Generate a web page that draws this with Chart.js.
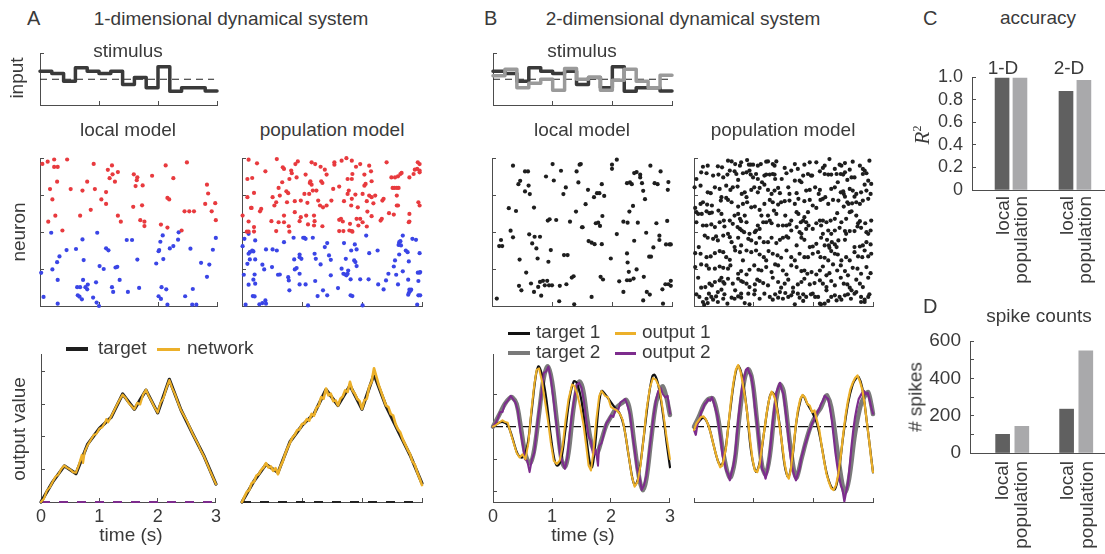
<!DOCTYPE html>
<html>
<head>
<meta charset="utf-8">
<script src="https://cdn.jsdelivr.net/npm/chart.js@4.4.0/dist/chart.umd.min.js"></script>
<style>
  body { margin: 0; background: #fff; }
  #fig { position: relative; width: 1105px; height: 554px; overflow: hidden; font-family: "Liberation Sans", Arial, sans-serif; color: #3a3a3a; }
  #fig canvas { position: absolute; }
  .t { position: absolute; white-space: nowrap; line-height: 1; }
  .lg { position: absolute; height: 3px; }
</style>
</head>
<body>
<div id="fig"></div>
<script>
// ---------- data ----------
const stepTimes = [0, 0.2, 0.4, 0.6, 0.8, 1.0, 1.2, 1.4, 1.6, 1.8, 2.0, 2.2, 2.4, 2.6, 2.8, 3.0];
const stimA = [0.8, 0.57, -0.2, 1.13, 0.8, 0.57, 0.8, -0.53, 0.17, -0.83, 1.23, -1.2, -0.83, -0.83, -1.17];
const stimB1 = [0.8, 0.57, -0.2, 1.13, 0.8, 0.57, 0.8, -0.53, 0.17, -0.83, 1.23, -1.2, -0.83, -0.83, -1.17];
const stimB2 = [0.35, 1.0, -0.83, -0.4, 0.0, -1.1, 1.07, 0.0, 0.2, -1.1, -0.1, 1.0, -0.2, -0.83, 0.4];

// raster spikes: [time (s), neuron]
const rasterA_localExc = [[0.04,96],[0.13,97.5],[0.24,99],[0.24,94],[0.30,94],[0.46,99],[0.91,96],[1.22,95],[1.15,92],[1.32,90.5],[1.23,89],[1.18,86.4],[1.27,84],[0.80,84],[1.59,89],[1.65,87],[1.64,85],[2.13,95],[2.49,97],[1.90,88],[2.26,86.4],[0.29,84],[0.17,79],[0.52,79],[0.72,78],[0.93,79],[1.12,77],[1.04,72],[1.12,69],[0.21,72],[0.86,65],[0.68,61],[0.26,61],[0.14,57],[0.38,51],[1.32,61],[1.37,57],[1.58,67],[1.62,81],[1.74,81.5],[1.73,68],[1.70,58],[1.77,57],[1.77,54],[2.16,73],[2.19,72],[2.05,55],[2.16,53],[2.40,51],[2.45,64],[2.53,64],[2.61,64],[2.83,82],[2.85,76],[2.80,69],[2.97,69.5],[2.91,64],[2.98,58]];
const rasterA_localInh = [[0.19,49.5],[0.02,22.4],[0.21,24.7],[0.29,29.6],[0.33,33.5],[0.45,37.8],[0.61,38.5],[0.72,45],[0.74,31],[0.97,49.5],[1.12,39],[1.16,37.6],[1.01,27],[1.08,25],[1.28,26],[1.31,26.5],[1.35,17.6],[0.73,17.6],[0.63,12.7],[0.68,12.7],[0.77,12.7],[0.81,14.5],[0.80,11.3],[0.64,7.2],[0.67,6.3],[0.71,4.5],[0.90,5.7],[0.95,16],[0.96,2.3],[1.00,0],[0.30,17.6],[0.30,1.6],[0.06,6.1],[1.22,12.7],[1.24,9.5],[1.49,9.5],[1.68,12.2],[1.47,44.6],[1.56,44.6],[1.65,31.4],[1.97,28.7],[2.01,37],[2.02,37.8],[2.04,43.4],[2.08,47.7],[2.09,31.7],[2.06,12.7],[2.14,11.3],[2.01,6.6],[2.05,4.8],[2.16,0.9],[2.20,38.9],[2.26,40.5],[2.34,44.8],[2.35,49.8],[2.55,38.7],[2.46,6.6],[2.59,11.5],[2.58,0.9],[2.65,0.9],[2.73,29.2],[2.83,19.7],[2.87,28],[2.93,38],[2.98,46]];
const rasterA_popExc = [[0.11,98.9],[0.25,96.4],[0.39,91.0],[0.58,99.3],[0.68,93.7],[0.70,92.6],[0.82,91.5],[0.83,89.7],[0.89,95.9],[0.93,97.7],[1.06,88.8],[1.16,97.1],[1.22,95.9],[1.31,94.1],[1.38,92.1],[1.41,88.8],[1.54,97.1],[1.54,95.5],[1.66,98.2],[1.74,99.9],[1.83,98.2],[1.90,94.1],[1.97,95.9],[1.76,85.8],[1.83,85.8],[1.84,89.2],[2.04,88.8],[2.12,94.8],[2.15,91.0],[2.16,84.3],[2.41,97.1],[2.49,86.9],[2.55,86.9],[2.60,87.6],[2.64,89.2],[2.66,89.9],[2.79,86.9],[2.86,89.2],[2.88,92.1],[2.92,92.6],[2.96,91.5],[2.96,90.3],[2.93,97.1],[2.96,95.9],
  [0.09,85.8],[0.17,86.5],[0.09,73.5],[0.20,76.4],[0.15,66.3],[0.30,64.0],[0.32,65.6],[0.51,73.5],[0.54,67.9],[0.57,70.1],[0.61,79.8],[0.63,74.6],[0.67,83.6],[0.79,85.8],[0.74,77.5],[0.77,76.2],[0.75,70.1],[0.88,70.8],[0.91,86.9],[0.98,71.2],[1.04,75.7],[1.09,69.7],[1.12,75.7],[1.13,83.1],[1.14,84.3],[1.16,82.0],[1.18,78.0],[1.24,78.0],[1.30,67.9],[1.27,71.2],[1.32,84.3],[1.34,83.1],[1.35,66.7],[1.41,67.9],[1.49,71.2],[1.52,79.1],[1.62,80.7],[1.70,70.8],[1.76,75.7],[1.78,78.0],[1.83,72.4],[1.82,67.9],[1.89,75.3],[1.93,66.7],[2.01,75.7],[2.04,81.3],[2.06,82.5],[2.08,70.8],[2.12,74.6],[2.16,73.5],[2.19,69.4],[2.22,74.6],[2.34,71.2],[2.36,72.4],[2.51,79.8],[2.54,79.8],[2.58,79.8],[2.61,79.8],[2.58,74.6],[2.58,67.9],[2.94,70.1],[2.96,67.9],
  [0.01,61.1],[0.11,57.1],[0.16,66.3],[0.20,53.3],[0.20,50.3],[0.11,50.2],[0.08,50.2],[0.49,57.3],[0.57,50.6],[0.61,56.6],[0.70,61.1],[0.70,56.6],[0.78,53.9],[0.79,50.2],[0.88,63.4],[0.96,57.3],[0.98,60.0],[1.07,61.1],[1.10,55.1],[1.20,61.1],[1.21,57.3],[1.20,54.4],[1.34,53.9],[1.62,58.2],[1.65,58.9],[1.68,57.1],[1.62,50.6],[1.69,50.6],[1.79,51.0],[1.83,50.6],[1.84,50.2],[1.80,55.5],[1.91,58.9],[1.94,54.4],[1.97,58.9],[2.01,56.6],[2.09,63.8],[2.08,53.7],[2.16,60.7],[2.33,58.9],[2.31,57.7],[2.45,62.7],[2.53,61.8],[2.60,67.9],[2.79,62.2],[2.79,57.1],[2.78,56.6]];
const rasterA_popInh = [[0.04,45.4],[0.11,48.8],[0.22,44.3],[0.01,40.4],[0.17,37.5],[0.13,36.4],[0.11,35.3],[0.19,36.9],[0.22,31.5],[0.13,31.5],[0.09,28.5],[0.03,21.1],[0.11,14.4],[0.21,21.3],[0.19,17.8],[0.22,15.1],[0.18,6.7],[0.21,6.5],[0.06,0.9],[0.29,1.1],[0.34,2.0],[0.39,3.8],[0.40,1.6],[0.34,27.9],[0.37,24.7],[0.40,38.2],[0.50,26.3],[0.51,38.2],[0.58,37.5],[0.60,21.1],[0.63,21.3],[0.70,43.1],[0.77,19.5],[0.78,17.3],[0.79,10.6],[0.86,46.1],[0.87,31.5],[0.88,24.7],[0.91,25.6],[0.96,34.8],[0.96,33.0],[0.99,31.9],[0.96,21.8],[0.96,14.6],[1.06,14.6],[1.02,46.1],[1.04,46.1],[1.06,45.4],[1.10,0.4],[1.18,46.1],[1.21,35.3],[1.23,31.9],[1.22,16.9],[1.26,6.7],[1.31,28.1],[1.35,10.6],[1.38,39.8],[1.42,42.5],[1.42,7.2],[1.45,34.2],[1.48,31.2],[1.48,20.7],[1.60,12.1],[1.66,25.2],[1.70,42.5],[1.73,31.9],[1.69,21.8],[1.72,21.3],[1.74,20.7],[1.76,21.8],[1.77,24.0],[1.81,7.2],[1.84,6.7],[1.82,37.5],[1.88,41.6],[1.91,38.2],[1.87,30.8],[1.89,29.7],[1.91,27.0],[1.81,18.0],[1.97,18.0],[2.01,0.4],[2.07,47.6],[2.11,18.0],[2.12,35.7],[2.27,14.6],[2.26,37.5],[2.36,11.2],[2.40,17.3],[2.44,21.8],[2.53,26.7],[2.55,30.8],[2.57,21.1],[2.61,41.3],[2.62,43.1],[2.64,43.8],[2.65,40.9],[2.62,34.8],[2.60,14.6],[2.68,47.6],[2.68,23.4],[2.73,37.5],[2.76,36.4],[2.78,30.1],[2.77,17.8],[2.79,11.0],[2.78,8.8],[2.82,11.0],[2.77,7.6],[2.80,9.9],[2.84,45.4],[2.90,44.7],[2.92,0.9],[2.94,7.2],[2.97,7.2],[2.96,35.7],[2.93,22.5],[2.96,22.5],[2.97,22.9],[2.94,16.9]];
const rasterB_local = [[0.35,94.8],[0.44,82.3],[0.47,84.6],[0.55,90.9],[0.60,90.9],[0.61,81.4],[0.55,77.4],[0.63,75.6],[0.28,66.1],[0.40,64.2],[0.70,66.5],[0.31,50.9],[0.35,46.4],[0.46,31.4],[0.62,48.4],[0.71,46.8],[0.80,46.8],[0.67,42.3],[0.74,38.9],[0.76,32.1],[0.15,44.6],[0.12,40.5],[0.17,40.5],[0.08,5.0],[0.45,13.6],[0.49,10.6],[0.57,22.6],[0.65,15.2],[0.70,9.5],[0.80,16.3],[0.77,12.9],[0.82,7.0],[0.85,17.0],[0.88,14.0],[0.92,17.0],[0.95,14.0],[1.00,14.0],[0.94,29.9],[0.98,37.8],[0.93,57.7],[0.96,58.6],[1.07,58.1],[1.01,95.9],[1.03,84.8],[0.90,87.5],[1.15,91.4],[1.19,75.6],[1.23,80.1],[1.13,13.6],[1.12,3.2],[1.24,14.7],[1.26,34.4],[1.20,34.4],[1.30,57.0],[1.33,19.2],[1.36,20.1],[1.37,1.1],[1.40,63.8],[1.41,90.9],[1.44,83.5],[1.46,95.5],[1.48,95.9],[1.50,53.2],[1.51,53.2],[1.56,68.8],[1.60,78.5],[1.61,43.9],[1.66,42.8],[1.66,6.1],[1.70,73.5],[1.75,76.2],[1.79,76.2],[1.83,82.3],[1.84,60.8],[1.87,74.4],[1.71,41.8],[1.77,56.3],[1.80,54.1],[1.73,55.9],[1.83,41.8],[1.85,17.9],[1.81,19.7],[2.00,95.5],[2.00,92.7],[2.08,98.9],[1.98,32.1],[2.08,48.6],[2.12,16.7],[2.19,9.5],[2.25,83.0],[2.30,83.5],[2.33,82.3],[2.37,89.8],[2.41,90.5],[2.47,88.7],[2.47,86.9],[2.50,83.0],[2.52,77.8],[2.55,72.2],[2.35,67.6],[2.29,63.8],[2.26,56.3],[2.43,56.3],[2.19,57.0],[2.25,35.5],[2.26,29.4],[2.28,23.1],[2.25,17.4],[2.30,17.4],[2.36,18.5],[2.41,24.7],[2.57,49.5],[2.62,33.3],[2.65,33.3],[2.69,39.6],[2.71,83.0],[2.76,82.3],[2.74,55.9],[2.79,47.5],[2.79,44.6],[2.64,94.8],[2.81,90.9],[2.92,57.5],[2.94,83.7],[2.93,78.5],[2.90,41.6],[2.96,41.6],[2.98,41.6],[2.84,11.3],[2.89,14.7],[2.94,14.7],[2.98,17.0],[2.98,13.6],[2.52,3.8],[2.58,9.5],[2.63,7.7],[2.85,1.6],[2.37,44.1],[2.53,19.7]];
const rasterB_pop = [[0.15,94.1],[0.23,94.8],[0.40,94.4],[0.47,93.7],[0.57,98.2],[0.63,97.7],[0.69,95.9],[0.77,94.8],[0.79,97.1],[0.89,98.6],[0.92,95.5],[0.95,95.5],[0.99,95.5],[1.07,94.8],[1.12,95.9],[1.21,97.5],[1.24,97.7],[1.32,95.9],[1.35,94.8],[1.38,97.7],[1.52,93.3],[1.69,95.9],[1.74,92.6],[1.85,95.5],[1.94,97.1],[2.05,97.1],[2.16,93.3],[2.19,94.8],[2.27,99.3],[2.36,92.6],[2.44,95.5],[2.47,94.8],[2.53,96.6],[2.61,92.1],[2.66,97.5],[2.78,94.8],[2.83,92.6],[2.86,91.5],[2.94,98.2],
  [0.04,85.8],[0.12,90.3],[0.21,89.7],[0.32,88.1],[0.41,88.8],[0.49,86.9],[0.56,88.8],[0.60,91.5],[0.68,91.0],[0.71,89.2],[0.74,85.2],[0.82,89.7],[0.88,90.3],[0.93,91.5],[0.95,88.8],[0.99,86.9],[1.04,89.2],[1.07,85.8],[1.18,88.1],[1.21,88.8],[1.27,88.8],[1.32,89.2],[1.35,88.8],[1.36,85.8],[1.47,85.8],[1.55,89.7],[1.63,91.5],[1.69,84.7],[1.77,84.7],[1.83,88.1],[1.91,89.2],[1.96,88.1],[1.98,88.1],[2.11,91.0],[2.19,89.2],[2.25,88.8],[2.30,88.8],[2.39,89.2],[2.46,89.2],[2.50,88.8],[2.53,90.3],[2.57,85.2],[2.64,86.9],[2.69,86.9],[2.83,89.2],[2.89,89.7],[2.92,84.7],[2.97,82.5],
  [0.01,80.2],[0.11,81.3],[0.23,76.8],[0.28,76.2],[0.35,80.2],[0.43,79.1],[0.46,73.5],[0.54,81.3],[0.61,78.4],[0.65,80.2],[0.73,80.7],[0.80,75.7],[0.85,76.8],[0.88,73.5],[0.96,78.4],[1.01,80.2],[1.07,76.8],[1.10,79.8],[1.14,83.6],[1.18,82.0],[1.24,78.4],[1.30,75.7],[1.35,78.0],[1.41,79.8],[1.44,76.2],[1.58,80.2],[1.60,75.7],[1.72,76.2],[1.80,83.6],[1.88,78.0],[1.94,78.4],[2.03,80.2],[2.09,75.7],[2.11,78.4],[2.16,72.4],[2.20,73.5],[2.30,79.1],[2.36,80.2],[2.41,83.6],[2.46,76.8],[2.50,77.5],[2.51,75.7],[2.61,79.1],[2.66,78.0],[2.72,75.7],[2.80,76.8],[2.86,82.0],[2.89,78.0],[2.96,75.7],[2.69,73.9],[2.53,73.9],
  [0.02,66.3],[0.11,69.0],[0.15,70.1],[0.22,68.5],[0.30,67.9],[0.45,71.2],[0.54,73.0],[0.57,71.7],[0.63,70.1],[0.74,67.2],[0.82,69.0],[0.89,70.1],[0.96,66.7],[1.02,67.2],[1.10,64.9],[1.18,69.0],[1.27,71.7],[1.32,70.1],[1.41,68.5],[1.46,70.1],[1.52,70.8],[1.60,71.2],[1.69,69.0],[1.75,72.4],[1.85,70.8],[1.94,71.7],[1.99,67.9],[2.05,66.3],[2.12,71.7],[2.25,69.0],[2.33,71.7],[2.42,71.2],[2.51,67.2],[2.57,70.1],[2.59,69.0],[2.65,69.4],[2.72,70.1],[2.78,69.0],[2.83,71.2],[2.92,72.4],
  [0.04,63.4],[0.07,62.2],[0.13,62.2],[0.21,64.0],[0.26,62.7],[0.30,63.1],[0.41,64.5],[0.46,62.2],[0.50,57.7],[0.60,57.7],[0.68,61.1],[0.74,62.2],[0.77,58.9],[0.79,57.3],[0.85,61.1],[0.88,56.6],[1.13,61.1],[1.24,61.1],[1.27,57.7],[1.34,64.5],[1.38,62.2],[1.53,61.1],[1.63,57.7],[1.72,63.4],[1.75,62.2],[1.79,56.6],[1.83,57.7],[1.85,60.0],[1.88,56.6],[1.91,63.4],[2.11,57.7],[2.16,57.7],[2.22,56.6],[2.29,57.7],[2.36,58.9],[2.40,62.7],[2.47,56.6],[2.55,58.9],[2.61,63.4],[2.64,64.0],[2.72,61.1],[2.75,55.9],[2.78,57.3],[2.87,55.9],[2.97,57.7],
  [0.04,56.6],[0.15,54.4],[0.21,54.4],[0.29,55.1],[0.35,53.3],[0.43,56.6],[0.51,53.7],[0.57,48.8],[0.65,55.5],[0.73,53.3],[0.77,52.1],[0.80,51.0],[0.84,49.9],[0.93,48.8],[1.02,49.9],[1.04,51.0],[1.10,52.1],[1.07,54.4],[1.16,56.6],[1.21,56.6],[1.30,55.9],[1.41,54.4],[1.49,54.4],[1.55,54.4],[1.60,55.1],[1.63,51.0],[1.72,53.3],[1.77,49.9],[1.80,48.8],[1.88,52.1],[1.92,54.4],[1.99,52.1],[2.05,55.9],[2.13,54.4],[2.16,48.8],[2.25,51.0],[2.30,48.8],[2.36,51.0],[2.44,52.8],[2.53,50.6],[2.55,48.8],[2.61,50.6],[2.69,50.6],[2.74,53.7],[2.80,52.8],[2.89,49.9],[2.96,51.0],[2.92,48.8],
  [0.08,39.8],[0.18,47.6],[0.23,46.1],[0.32,45.4],[0.37,47.0],[0.40,44.3],[0.49,47.6],[0.60,46.5],[0.63,43.1],[0.68,39.8],[0.74,46.1],[0.79,40.9],[0.91,45.4],[0.96,44.3],[1.04,42.5],[1.10,46.1],[1.17,43.1],[1.24,43.1],[1.30,46.1],[1.38,42.5],[1.44,44.7],[1.49,46.1],[1.55,47.0],[1.58,46.1],[1.72,40.9],[1.80,46.1],[1.85,44.7],[1.94,39.8],[1.99,40.2],[2.05,42.0],[2.13,46.1],[2.19,40.9],[2.23,44.7],[2.26,40.9],[2.27,39.3],[2.31,43.1],[2.36,41.6],[2.39,39.8],[2.42,44.3],[2.53,44.7],[2.69,39.8],[2.78,40.2],[2.83,40.9],[2.89,43.1],[2.96,41.6],
  [0.02,35.7],[0.11,35.3],[0.21,33.0],[0.28,33.5],[0.35,35.7],[0.43,37.1],[0.49,36.4],[0.54,33.0],[0.60,31.2],[0.69,37.5],[0.77,36.4],[0.82,30.8],[0.88,37.5],[0.96,36.4],[1.04,37.5],[1.10,34.8],[1.17,33.0],[1.21,30.8],[1.25,37.1],[1.32,35.3],[1.40,34.2],[1.46,32.6],[1.55,37.5],[1.63,33.0],[1.69,30.8],[1.77,35.3],[1.85,33.0],[1.91,33.0],[1.99,35.3],[2.08,36.4],[2.12,33.0],[2.19,32.6],[2.25,30.8],[2.30,37.1],[2.36,35.3],[2.41,34.8],[2.47,30.8],[2.55,33.0],[2.61,30.8],[2.69,36.4],[2.75,33.5],[2.82,33.0],[2.86,37.5],[2.92,33.5],[2.97,35.3],
  [0.02,26.3],[0.12,28.1],[0.21,27.4],[0.25,25.2],[0.35,25.2],[0.43,26.7],[0.49,25.8],[0.57,25.2],[0.61,27.4],[0.74,21.8],[0.79,23.6],[0.88,21.3],[0.93,24.5],[1.01,27.4],[1.08,24.5],[1.13,24.0],[1.21,26.3],[1.30,22.9],[1.36,28.1],[1.41,27.4],[1.49,24.0],[1.55,21.3],[1.63,27.4],[1.72,26.3],[1.80,23.6],[1.85,24.0],[1.90,21.8],[1.97,22.9],[2.05,21.3],[2.11,24.0],[2.16,26.7],[2.22,20.7],[2.27,22.2],[2.33,28.1],[2.40,24.0],[2.46,27.4],[2.53,23.6],[2.58,20.7],[2.66,25.8],[2.74,25.2],[2.80,21.8],[2.89,26.3],[2.96,22.2],
  [0.07,19.1],[0.12,12.4],[0.19,12.8],[0.26,15.1],[0.30,13.9],[0.35,16.2],[0.43,17.3],[0.46,19.1],[0.49,16.2],[0.51,15.1],[0.57,18.4],[0.65,15.1],[0.74,18.4],[0.79,16.9],[0.82,16.2],[0.88,15.1],[0.93,12.8],[1.02,14.6],[1.06,17.8],[1.10,16.9],[1.16,15.5],[1.24,13.9],[1.32,19.1],[1.41,16.2],[1.46,12.4],[1.52,15.1],[1.58,17.8],[1.66,12.4],[1.74,14.6],[1.80,16.2],[1.85,18.4],[1.94,14.6],[2.02,15.5],[2.11,17.3],[2.16,15.1],[2.22,12.8],[2.30,16.9],[2.36,13.9],[2.46,19.1],[2.51,15.1],[2.57,14.6],[2.61,12.4],[2.72,17.8],[2.78,15.1],[2.83,12.8],[2.92,19.1],
  [0.04,7.9],[0.09,6.1],[0.15,2.7],[0.21,4.9],[0.25,8.3],[0.29,6.1],[0.37,6.5],[0.40,9.4],[0.46,11.0],[0.51,7.9],[0.56,1.6],[0.63,5.6],[0.69,10.6],[0.74,6.5],[0.79,5.6],[0.85,2.0],[0.91,8.3],[0.93,1.1],[1.02,10.6],[1.10,4.9],[1.18,8.3],[1.27,6.1],[1.36,7.9],[1.44,9.4],[1.49,4.9],[1.53,8.8],[1.58,6.1],[1.63,7.2],[1.69,1.1],[1.77,5.6],[1.83,7.9],[1.88,6.1],[1.96,7.9],[1.99,8.3],[2.03,6.1],[2.11,1.6],[2.13,1.1],[2.19,1.6],[2.25,3.4],[2.30,6.1],[2.39,3.8],[2.47,4.3],[2.53,7.2],[2.58,7.9],[2.63,4.9],[2.69,8.3],[2.80,6.1],[2.86,4.3],[2.94,7.9],[2.86,2.7],[0.17,0.7],[0.23,2.0],[0.32,4.3],[0.40,2.7],[0.49,4.9],[0.68,4.9],[0.79,8.3],[1.01,7.9],[1.32,4.3],[1.41,5.6],[1.66,9.4],[1.74,8.3],[1.83,3.4],[2.08,6.1],[2.22,10.6],[2.36,7.2],[2.44,6.1],[2.64,10.6],[2.72,9.4],[2.80,2.7],[2.92,6.1]];

// 1-D outputs: [time (s), value]
const target1D = [[0,0],[0.2,0.62],[0.4,1.11],[0.6,0.87],[0.8,1.78],[1.0,2.26],[1.2,2.6],[1.4,3.32],[1.6,2.85],[1.8,3.44],[2.0,2.74],[2.2,3.77],[2.4,2.83],[2.6,2.1],[2.8,1.39],[3.0,0.55]];
const net1D_local = [[0,0],[0.05,0.1],[0.1,0.35],[0.15,0.45],[0.2,0.62],[0.25,0.78],[0.3,0.85],[0.35,1.02],[0.4,1.12],[0.45,1.05],[0.5,1.0],[0.55,0.92],[0.6,0.9],[0.65,1.15],[0.7,1.45],[0.72,1.2],[0.75,1.55],[0.8,1.75],[0.85,1.9],[0.9,2.05],[0.95,2.1],[1.0,2.25],[1.05,2.3],[1.1,2.45],[1.12,2.55],[1.15,2.45],[1.2,2.62],[1.25,2.8],[1.3,2.98],[1.35,3.15],[1.4,3.3],[1.45,3.2],[1.5,3.05],[1.55,2.95],[1.6,2.85],[1.65,3.05],[1.7,3.0],[1.75,3.3],[1.8,3.45],[1.85,3.25],[1.9,3.08],[1.95,2.9],[2.0,2.75],[2.05,3.05],[2.1,3.2],[2.15,3.5],[2.2,3.75],[2.25,3.5],[2.3,3.3],[2.35,3.05],[2.4,2.82],[2.5,2.5],[2.6,2.1],[2.7,1.75],[2.75,1.55],[2.8,1.38],[2.9,0.95],[3.0,0.55]];
const net1D_pop = [[0,0],[0.04,0.15],[0.08,0.3],[0.12,0.35],[0.16,0.55],[0.2,0.6],[0.24,0.78],[0.28,0.82],[0.32,0.95],[0.36,1.02],[0.4,1.15],[0.44,1.02],[0.48,1.05],[0.52,0.92],[0.56,1.0],[0.6,0.82],[0.64,1.05],[0.68,1.2],[0.72,1.42],[0.76,1.6],[0.8,1.75],[0.84,1.9],[0.88,1.98],[0.92,2.12],[0.96,2.15],[1.0,2.3],[1.04,2.32],[1.08,2.45],[1.12,2.4],[1.16,2.6],[1.2,2.55],[1.24,2.78],[1.28,2.85],[1.32,3.1],[1.36,3.05],[1.4,3.35],[1.44,3.15],[1.48,3.2],[1.52,2.98],[1.56,3.0],[1.6,2.85],[1.64,3.05],[1.68,3.12],[1.72,3.3],[1.76,3.25],[1.8,3.55],[1.84,3.3],[1.88,3.2],[1.92,3.05],[1.96,2.98],[2.0,2.75],[2.04,3.0],[2.08,3.05],[2.12,3.4],[2.16,3.55],[2.2,3.95],[2.24,3.7],[2.28,3.45],[2.32,3.25],[2.36,3.05],[2.4,2.85],[2.44,2.8],[2.48,2.6],[2.52,2.55],[2.56,2.3],[2.6,2.15],[2.64,2.05],[2.68,1.85],[2.72,1.7],[2.76,1.55],[2.8,1.42],[2.84,1.2],[2.88,1.1],[2.92,0.88],[2.96,0.7],[3.0,0.5]];

// 2-D outputs: [time (s), value]
const target1_local = [[0,0],[0.08,0.1],[0.16,0.15],[0.25,0.05],[0.33,-0.35],[0.42,-0.85],[0.5,-0.95],[0.58,-0.6],[0.65,0.4],[0.72,1.5],[0.77,1.86],[0.83,1.6],[0.9,0.9],[0.98,-0.3],[1.04,-1.0],[1.09,-1.2],[1.15,-1.05],[1.22,-0.2],[1.3,0.9],[1.37,1.4],[1.42,1.35],[1.5,0.8],[1.58,-0.3],[1.64,-1.1],[1.68,-1.25],[1.73,-0.6],[1.79,0.6],[1.84,1.1],[1.9,1.0],[1.98,0.8],[2.06,0.6],[2.15,0.4],[2.22,0.0],[2.3,-0.9],[2.37,-1.65],[2.41,-1.8],[2.47,-1.5],[2.55,-0.4],[2.63,0.8],[2.7,1.55],[2.74,1.6],[2.8,1.3],[2.88,0.4],[2.95,-0.6],[3.0,-1.25]];
const target2_local = [[0,0],[0.1,0.35],[0.2,0.7],[0.28,0.88],[0.33,0.9],[0.4,0.7],[0.47,0.0],[0.55,-0.85],[0.63,-1.13],[0.7,-0.7],[0.78,0.4],[0.86,1.5],[0.93,1.86],[1.0,1.4],[1.08,0.2],[1.16,-1.0],[1.22,-1.24],[1.28,-0.8],[1.36,0.5],[1.43,1.25],[1.47,1.39],[1.53,1.1],[1.6,0.2],[1.68,-0.6],[1.76,-0.82],[1.84,-0.4],[1.92,0.05],[2.0,0.31],[2.1,0.6],[2.2,0.75],[2.26,0.82],[2.32,0.5],[2.4,-0.6],[2.48,-1.6],[2.54,-1.96],[2.6,-1.6],[2.68,-0.4],[2.76,0.7],[2.84,1.15],[2.88,1.24],[2.94,0.9],[3.0,0.36]];
const out1_local = [[0,0],[0.05,0.05],[0.1,0.12],[0.16,0.2],[0.2,0.15],[0.25,0.12],[0.3,-0.2],[0.35,-0.5],[0.4,-0.8],[0.45,-0.95],[0.5,-0.85],[0.55,-1.0],[0.6,-0.5],[0.65,0.5],[0.7,1.3],[0.74,1.75],[0.78,1.8],[0.83,1.4],[0.88,0.8],[0.93,0.2],[0.98,-0.5],[1.03,-1.05],[1.08,-1.15],[1.13,-1.05],[1.18,-0.6],[1.23,0.2],[1.28,0.85],[1.34,1.3],[1.38,1.25],[1.43,1.0],[1.48,0.6],[1.53,0.1],[1.58,-0.6],[1.62,-1.2],[1.66,-1.35],[1.7,-0.8],[1.75,0.2],[1.8,0.95],[1.84,1.1],[1.9,0.95],[1.95,0.9],[2.0,0.6],[2.05,0.55],[2.1,0.5],[2.15,0.4],[2.2,0.2],[2.25,-0.3],[2.3,-0.9],[2.35,-1.5],[2.4,-1.85],[2.45,-1.7],[2.5,-1.2],[2.55,-0.4],[2.6,0.5],[2.66,1.2],[2.71,1.5],[2.76,1.45],[2.82,1.2],[2.88,0.5],[2.94,-0.3],[3.0,-1.0]];
const out2_local = [[0,0],[0.04,0.1],[0.08,0.25],[0.12,0.45],[0.16,0.45],[0.2,0.7],[0.25,0.8],[0.3,0.95],[0.34,0.85],[0.38,0.75],[0.42,0.5],[0.46,-0.1],[0.5,-0.5],[0.54,-1.0],[0.58,-1.05],[0.62,-1.4],[0.66,-1.0],[0.7,-0.8],[0.74,-0.1],[0.78,0.5],[0.82,1.0],[0.86,1.65],[0.9,1.7],[0.94,1.85],[0.98,1.5],[1.02,0.9],[1.06,0.3],[1.1,-0.3],[1.14,-0.9],[1.18,-1.1],[1.22,-1.3],[1.26,-0.95],[1.3,-0.2],[1.34,0.4],[1.38,0.9],[1.42,1.3],[1.46,1.35],[1.5,1.2],[1.54,0.8],[1.58,0.2],[1.62,-0.3],[1.66,-0.45],[1.7,-0.9],[1.74,-0.7],[1.78,-1.2],[1.8,-0.6],[1.84,-0.5],[1.88,-0.2],[1.92,0.1],[1.96,0.2],[2.0,0.35],[2.04,0.3],[2.08,0.55],[2.12,0.5],[2.16,0.75],[2.2,0.8],[2.24,0.85],[2.28,0.65],[2.32,0.4],[2.36,-0.2],[2.4,-0.7],[2.44,-1.3],[2.48,-1.5],[2.52,-1.95],[2.56,-1.8],[2.6,-1.5],[2.64,-0.9],[2.68,-0.3],[2.72,0.3],[2.76,0.8],[2.8,1.1],[2.84,1.2],[2.88,1.0],[2.92,0.9],[2.96,0.95],[3.0,0.4]];
const target1_pop = [[0,-0.07],[0.08,0.15],[0.16,0.28],[0.24,0.05],[0.32,-0.5],[0.4,-1.05],[0.46,-1.2],[0.52,-0.8],[0.6,0.4],[0.68,1.5],[0.74,1.87],[0.8,1.6],[0.88,0.6],[0.96,-0.8],[1.04,-1.39],[1.1,-1.1],[1.18,-0.1],[1.26,0.85],[1.31,1.06],[1.36,0.9],[1.44,0.0],[1.52,-1.2],[1.58,-1.55],[1.64,-1.1],[1.72,0.2],[1.79,0.85],[1.83,0.96],[1.9,0.7],[1.98,0.45],[2.06,0.1],[2.14,-0.6],[2.22,-1.4],[2.3,-1.85],[2.36,-1.93],[2.42,-1.5],[2.5,-0.3],[2.58,0.7],[2.66,1.3],[2.72,1.5],[2.76,1.53],[2.82,1.2],[2.9,0.1],[2.96,-0.8],[3.0,-1.41]];
const target2_pop = [[0,0],[0.08,0.3],[0.16,0.65],[0.24,0.85],[0.32,0.86],[0.4,0.3],[0.5,-0.9],[0.6,-1.57],[0.68,-1.1],[0.76,0.3],[0.84,1.4],[0.91,1.78],[0.98,1.4],[1.06,0.1],[1.14,-1.2],[1.2,-1.46],[1.27,-0.9],[1.36,0.6],[1.44,1.29],[1.5,1.1],[1.6,-0.4],[1.68,-1.4],[1.72,-1.57],[1.8,-1.0],[1.9,-0.3],[1.97,0.08],[2.06,0.4],[2.13,0.6],[2.2,0.9],[2.23,0.96],[2.3,0.6],[2.4,-0.7],[2.48,-1.7],[2.53,-2.03],[2.6,-1.6],[2.7,-0.2],[2.8,0.7],[2.88,1.0],[2.92,1.06],[2.97,0.7],[3.0,0.39]];
const out1_pop = [[0,-0.1],[0.04,0.1],[0.08,0.2],[0.12,0.3],[0.16,0.32],[0.2,0.22],[0.24,0.05],[0.28,-0.2],[0.32,-0.5],[0.36,-0.8],[0.4,-1.05],[0.44,-1.25],[0.47,-1.2],[0.5,-1.0],[0.54,-0.6],[0.58,0.1],[0.62,0.8],[0.66,1.35],[0.7,1.75],[0.74,1.9],[0.78,1.7],[0.82,1.3],[0.86,0.85],[0.9,0.3],[0.94,-0.4],[0.98,-1.0],[1.02,-1.35],[1.06,-1.4],[1.1,-1.15],[1.14,-0.6],[1.18,-0.1],[1.22,0.45],[1.26,0.85],[1.3,1.08],[1.33,1.0],[1.36,0.85],[1.4,0.45],[1.44,-0.05],[1.48,-0.6],[1.52,-1.15],[1.56,-1.5],[1.59,-1.6],[1.62,-1.35],[1.66,-0.75],[1.7,-0.05],[1.74,0.5],[1.78,0.85],[1.82,0.98],[1.86,0.9],[1.9,0.7],[1.94,0.65],[1.98,0.45],[2.02,0.5],[2.06,0.2],[2.1,-0.1],[2.14,-0.6],[2.18,-1.05],[2.22,-1.45],[2.26,-1.7],[2.3,-1.9],[2.34,-1.95],[2.38,-1.8],[2.42,-1.45],[2.46,-0.9],[2.5,-0.25],[2.54,0.35],[2.58,0.8],[2.62,1.15],[2.66,1.35],[2.7,1.5],[2.74,1.58],[2.78,1.4],[2.82,1.15],[2.86,0.7],[2.9,0.1],[2.94,-0.5],[2.97,-1.0],[3.0,-1.4]];
const out2_pop = [[0,-0.1],[0.03,-0.25],[0.06,0.1],[0.09,0.2],[0.12,0.45],[0.15,0.55],[0.18,0.7],[0.21,0.75],[0.24,0.85],[0.27,0.8],[0.3,0.9],[0.33,0.75],[0.36,0.55],[0.39,0.35],[0.42,-0.05],[0.45,-0.4],[0.48,-0.9],[0.51,-1.1],[0.54,-1.35],[0.57,-1.45],[0.6,-1.65],[0.63,-1.4],[0.66,-1.2],[0.69,-0.85],[0.72,-0.2],[0.75,0.35],[0.78,0.85],[0.81,1.25],[0.84,1.5],[0.87,1.75],[0.9,1.8],[0.93,1.65],[0.96,1.55],[0.99,1.2],[1.02,0.6],[1.05,0.2],[1.08,-0.3],[1.11,-0.8],[1.14,-1.3],[1.17,-1.4],[1.2,-1.6],[1.23,-1.35],[1.26,-1.0],[1.29,-0.45],[1.32,0.15],[1.35,0.6],[1.38,1.05],[1.41,1.2],[1.44,1.35],[1.47,1.15],[1.5,1.0],[1.53,0.55],[1.56,0.1],[1.59,-0.45],[1.62,-0.95],[1.65,-1.3],[1.68,-1.5],[1.71,-1.65],[1.74,-1.45],[1.77,-1.3],[1.8,-0.95],[1.83,-0.75],[1.86,-0.55],[1.89,-0.4],[1.92,-0.2],[1.95,-0.05],[1.98,0.1],[2.01,0.2],[2.04,0.35],[2.07,0.45],[2.1,0.55],[2.13,0.7],[2.16,0.8],[2.19,0.95],[2.22,0.9],[2.25,0.85],[2.28,0.55],[2.31,0.2],[2.34,-0.3],[2.37,-0.8],[2.4,-1.2],[2.43,-1.55],[2.46,-1.8],[2.49,-1.95],[2.52,-2.3],[2.55,-2.0],[2.58,-1.75],[2.61,-1.2],[2.64,-0.6],[2.67,-0.1],[2.7,0.3],[2.73,0.6],[2.76,0.85],[2.79,0.95],[2.82,1.05],[2.85,1.1],[2.88,1.0],[2.91,1.05],[2.94,0.85],[2.97,0.6],[3.0,0.4]];

// bar panels
const groups = ['1-D', '2-D'];
const groupX = [1, 2];
const accLocal = [0.99, 0.873];
const accPop = [0.99, 0.97];
const spikesLocal = [100, 235];
const spikesPop = [143, 547];
const accTicks = [0, 0.2, 0.4, 0.6, 0.8, 1.0];
const accTickLabels = ['0', '0.2', '0.4', '0.6', '0.8', '1.0'];
const spikeTicks = [0, 100, 200, 300, 400, 500, 600];
const spikeTickLabels = ['0', '', '200', '', '400', '', '600'];
const timeTicks = [0, 1, 2, 3];
const neuronTicks = [0, 25, 50, 75, 100];

// ---------- helpers ----------
const FONT = '"Liberation Sans", Arial, sans-serif';
const AX = '#4d4d4d';
const TXT = '#3a3a3a';
const RED = '#e83a3e', BLUE = '#3a45e6', DOT = '#1e1e1e';
const YEL = '#ecb02a', PUR = '#7d2c8d', GRAY = '#7a7a7a';
const fig = document.getElementById('fig');
Chart.defaults.font.family = FONT;

const pts = a => a.map(([x, y]) => ({ x, y }));

function lin(min, max, ticks, o = {}) {
  return {
    type: 'linear', min, max,
    afterBuildTicks: s => { s.ticks = ticks.map(v => ({ value: v })); },
    border: { display: o.border !== false, color: AX, width: 1 },
    grid: { display: ticks.length > 0, drawOnChartArea: false, drawTicks: true, tickLength: -4, color: AX, lineWidth: 1 },
    ticks: {
      display: !!o.labels, autoSkip: false, maxRotation: 0, color: TXT,
      font: { family: FONT, size: o.size || 18 }, padding: o.pad || 7,
      callback: o.labels ? o.labels : undefined
    }
  };
}

function mk(L, T, W, H, type, datasets, xs, ys, pad) {
  pad = Object.assign({ l: 12, r: 12, t: 14, b: 14 }, pad || {});
  const cv = document.createElement('canvas');
  const cw = W + pad.l + pad.r, ch = H + pad.t + pad.b;
  cv.width = cw; cv.height = ch;
  cv.style.left = (L - pad.l) + 'px'; cv.style.top = (T - pad.t) + 'px';
  cv.style.width = cw + 'px'; cv.style.height = ch + 'px';
  fig.appendChild(cv);
  xs.afterFit = s => { s.height = pad.b; };
  ys.afterFit = s => { s.width = pad.l; };
  xs.position = 'bottom'; ys.position = 'left';
  return new Chart(cv, {
    type,
    data: { datasets },
    options: {
      responsive: false, animation: false, devicePixelRatio: 1,
      layout: { padding: { left: 0, right: pad.r, top: pad.t, bottom: 0 } },
      plugins: { legend: { display: false }, tooltip: { enabled: false } },
      scales: { x: xs, y: ys }
    }
  });
}

function line(data, color, width, o = {}) {
  return Object.assign({
    data: pts(data), borderColor: color, borderWidth: width, pointRadius: 0,
    fill: false, tension: 0, clip: false, borderJoinStyle: 'round', borderCapStyle: 'round'
  }, o);
}
function dots(data, color) {
  return { data: pts(data), backgroundColor: color, borderWidth: 0, pointRadius: 2.1, pointHoverRadius: 2.1, clip: false };
}
function steps(vals) {
  const a = vals.map((v, i) => [stepTimes[i], v]);
  a.push([stepTimes[stepTimes.length - 1], vals[vals.length - 1]]);
  return a;
}
const zeroLine = [[0, 0], [2.95, 0]];

function txt(s, x, y, o = {}) {
  const d = document.createElement('div');
  d.className = 't';
  const fs = o.size || 19;
  d.style.fontSize = fs + 'px';
  d.style.color = o.color || TXT;
  d.innerHTML = s;
  d.style.left = x + 'px';
  if (o.rot) {
    d.style.top = y + 'px';
    d.style.transform = 'translate(-50%,-50%) rotate(-90deg)';
  } else if (o.up) {
    d.style.top = y + 'px';
    d.style.transformOrigin = '0 0';
    d.style.transform = 'rotate(-90deg) translate(-100%,-50%)';
  } else {
    d.style.top = (y - 0.85 * fs) + 'px';
    if (o.c) d.style.transform = 'translateX(-50%)';
  }
  fig.appendChild(d);
}
function swatch(x, y, w, color, h) {
  const d = document.createElement('div');
  d.className = 'lg';
  d.style.left = x + 'px'; d.style.top = (y - (h || 3) / 2) + 'px';
  d.style.width = w + 'px'; d.style.height = (h || 3) + 'px';
  d.style.background = color;
  fig.appendChild(d);
}

// ---------- panel A ----------
mk(40, 53, 177, 52, 'line', [
  line(steps(stimA), '#3a3a3a', 3.5, { stepped: 'before' }),
  line(zeroLine, '#222', 1, { borderDash: [7, 5], borderCapStyle: 'butt' })
], lin(0, 3, timeTicks), lin(-2.55, 2.6, [2.6]));

mk(40, 158, 177, 148, 'scatter', [dots(rasterA_localExc, RED), dots(rasterA_localInh, BLUE)],
  lin(0, 3, timeTicks), lin(0, 100, neuronTicks));
mk(242, 158, 180, 148, 'scatter', [dots(rasterA_popExc, RED), dots(rasterA_popInh, BLUE)],
  lin(0, 3, timeTicks), lin(0, 100, neuronTicks));

mk(40, 354, 177, 148, 'line', [
  line(net1D_local, YEL, 2.2),
  line(target1D, '#1e1e1e', 3.2),
  line([[0, 0], [3, 0]], PUR, 2, { borderDash: [9, 9], borderCapStyle: 'butt' })
], lin(0, 3, timeTicks, { labels: v => String(v), pad: 8 }), lin(0, 4.55, [0, 1, 2, 3, 4]), { b: 40 });

mk(242, 354, 180, 148, 'line', [
  line(net1D_pop, YEL, 2.6),
  line(target1D, '#1e1e1e', 3.2),
  line([[0, 0], [3, 0]], '#222', 2, { borderDash: [9, 9], borderCapStyle: 'butt' })
], lin(0, 3, timeTicks), lin(0, 4.37, [], { border: false }));

// ---------- panel B ----------
mk(493, 53, 179, 52, 'line', [
  line(steps(stimB2), '#9a9a9a', 3.5, { stepped: 'before' }),
  line(steps(stimB1), '#3a3a3a', 3.5, { stepped: 'before' }),
  line(zeroLine, '#222', 1, { borderDash: [7, 5], borderCapStyle: 'butt' })
], lin(0, 3, timeTicks), lin(-2.55, 2.6, [2.6]));

mk(492, 158, 180, 148, 'scatter', [dots(rasterB_local, DOT)],
  lin(0, 3, timeTicks), lin(0, 100, neuronTicks));
mk(694, 158, 179, 148, 'scatter', [dots(rasterB_pop, DOT)],
  lin(0, 3, timeTicks), lin(0, 100, neuronTicks));

mk(492, 354, 179, 148, 'line', [
  line(out1_local, YEL, 2),
  line(out2_local, PUR, 2),
  line(target1_local, '#111', 2.2, { tension: 0.35 }),
  line(target2_local, GRAY, 4.5, { tension: 0.35 }),
  line([[0, 0], [3, 0]], '#111', 1.2, { borderDash: [10, 3], borderCapStyle: 'butt' })
], lin(0, 3, timeTicks, { labels: v => String(v), pad: 8 }), lin(-2.32, 2.24, [-2, -1, 0, 1]), { b: 40 });

mk(694, 354, 179, 148, 'line', [
  line(out1_pop, YEL, 2.2),
  line(out2_pop, PUR, 2.2),
  line(target1_pop, '#111', 2.2, { tension: 0.35 }),
  line(target2_pop, GRAY, 4.5, { tension: 0.35 }),
  line([[0, 0], [3, 0]], '#111', 1.2, { borderDash: [10, 3], borderCapStyle: 'butt' })
], lin(0, 3, timeTicks), lin(-2.32, 2.24, [], { border: false }));

// ---------- panels C and D ----------
function bars(vals, off, color) {
  return {
    data: vals.map((v, i) => ({ x: groupX[i] + off, y: v })),
    backgroundColor: color, borderWidth: 0, barThickness: 14, grouped: false
  };
}
mk(972, 77, 133, 113, 'bar', [bars(accLocal, -0.14, '#606060'), bars(accPop, 0.14, '#a9a9ab')],
  lin(0.39, 2.47, []),
  lin(0, 1, accTicks, { labels: (v, i) => accTickLabels[i], size: 18, pad: 13 }),
  { l: 60, r: 2, t: 30, b: 30 });
mk(970, 341, 135, 112, 'bar', [bars(spikesLocal, -0.14, '#606060'), bars(spikesPop, 0.16, '#a9a9ab')],
  lin(0.35, 2.46, []),
  lin(0, 600, spikeTicks, { labels: (v, i) => spikeTickLabels[i], size: 19, pad: 13 }),
  { l: 60, r: 2, t: 30, b: 30 });

// ---------- text ----------
txt('A', 27, 25, { size: 20 });
txt('1-dimensional dynamical system', 231, 25, { c: 1 });
txt('stimulus', 128, 57, { c: 1 });
txt('input', 16, 78, { rot: 1 });
txt('local model', 128, 136, { c: 1 });
txt('population model', 332, 136, { c: 1 });
txt('neuron', 18, 232, { rot: 1 });
txt('output value', 18, 429, { rot: 1 });
txt('time (s)', 131, 541, { c: 1 });
swatch(66, 349, 22, '#1e1e1e', 4); txt('target', 98, 354);
swatch(157, 349, 23, YEL, 3); txt('network', 187, 354);

txt('B', 484, 25, { size: 20 });
txt('2-dimensional dynamical system', 683, 25, { c: 1 });
txt('stimulus', 582, 57, { c: 1 });
txt('local model', 582, 136, { c: 1 });
txt('population model', 783, 136, { c: 1 });
txt('time (s)', 583, 541, { c: 1 });
swatch(508, 333, 22, '#111', 3); txt('target 1', 536, 338);
swatch(615, 333, 21, YEL, 3); txt('output 1', 642, 338);
swatch(508, 353, 22, GRAY, 4); txt('target 2', 536, 358);
swatch(615, 353, 21, PUR, 3); txt('output 2', 642, 358);

txt('C', 923, 25, { size: 20 });
txt('accuracy', 1038, 24, { c: 1 });
txt(groups[0], 1003, 74, { c: 1 });
txt(groups[1], 1069, 74, { c: 1 });
txt('<i style="font-family:\'Liberation Serif\',serif">R</i><sup style="font-size:12px;font-family:\'Liberation Serif\',serif">2</sup>', 922, 135, { rot: 1, size: 21 });
txt('local', 1002, 196, { up: 1 });
txt('population', 1020, 196, { up: 1 });
txt('local', 1066, 196, { up: 1 });
txt('population', 1084, 196, { up: 1 });

txt('D', 923, 313, { size: 20 });
txt('spike counts', 1039, 322, { c: 1 });
txt('# spikes', 915, 397, { rot: 1 });
txt('local', 1001, 461, { up: 1 });
txt('population', 1020, 461, { up: 1 });
txt('local', 1066, 461, { up: 1 });
txt('population', 1086, 461, { up: 1 });
</script>
</body>
</html>
